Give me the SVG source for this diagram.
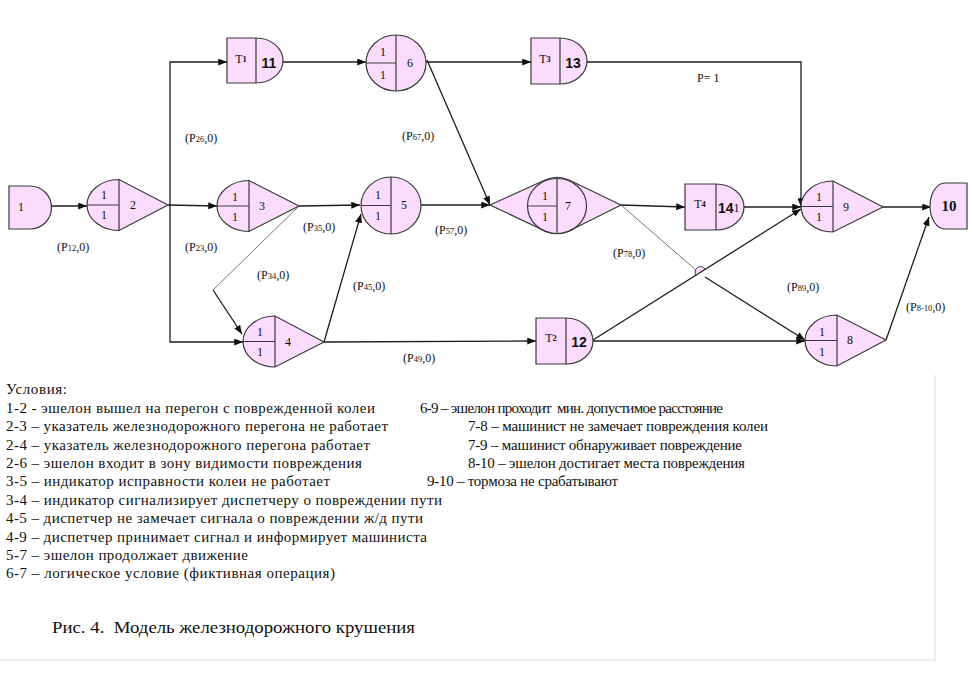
<svg xmlns="http://www.w3.org/2000/svg" width="973" height="684" viewBox="0 0 973 684">
<style>
.n{fill:#fcdcfc;stroke:#3a3a3a;stroke-width:1.2}
.d{stroke:#3a3a3a;stroke-width:1.2;fill:none}
.c{stroke:#1e1e1e;stroke-width:1.3;fill:none}
.ct{stroke:#555;stroke-width:0.8;fill:none}
.a{marker-end:url(#ar)}
.t{font-family:"Liberation Serif","DejaVu Serif",serif;font-size:12px;fill:#111;text-anchor:middle;dominant-baseline:central}
.b{font-family:"Liberation Sans",Arial,sans-serif;font-size:14px;font-weight:bold;fill:#111;text-anchor:middle;dominant-baseline:central}
.l{font-family:"Liberation Serif","DejaVu Serif",serif;font-size:12px;fill:#111}
.s{font-size:8.5px}
.x{font-family:"Liberation Serif","DejaVu Serif",serif;font-size:15px;fill:#111}
</style>
<defs>
<marker id="ar" viewBox="0 0 10 8" refX="10" refY="4" markerWidth="9" markerHeight="7" markerUnits="userSpaceOnUse" orient="auto">
<path d="M0,0 L10,4 L0,8 Z" fill="#111"/>
</marker>
</defs>
<rect width="973" height="684" fill="#fff"/>

<g id="connectors">
<line class="c a" x1="51" y1="206" x2="87" y2="206"/>
<line class="c a" x1="168" y1="205" x2="217" y2="206"/>
<path class="c a" d="M170,205 V62 H227"/>
<path class="c a" d="M170,205 V342 H243"/>
<line class="c a" x1="283" y1="62" x2="366" y2="62"/>
<line class="c a" x1="426" y1="62" x2="531" y2="62"/>
<path class="c a" d="M587,62 H801 V207"/>
<line class="c a" x1="427" y1="60" x2="490" y2="205"/>
<line class="c a" x1="299" y1="206" x2="360" y2="205"/>
<line class="c a" x1="421" y1="205" x2="490" y2="205"/>
<line class="ct" x1="299" y1="206" x2="213" y2="290"/>
<line class="c a" x1="213" y1="290" x2="242" y2="334"/>
<line class="c a" x1="324" y1="342" x2="361" y2="214"/>
<line class="c a" x1="324" y1="342" x2="536" y2="341"/>
<line class="c a" x1="621" y1="205" x2="685" y2="207"/>
<line class="c a" x1="744" y1="207" x2="801" y2="207"/>
<line class="ct" x1="621" y1="205" x2="697" y2="271"/>
<line class="c a" x1="705" y1="277" x2="805" y2="340"/>
<line class="c a" x1="593" y1="341" x2="805" y2="341"/>
<line class="c a" x1="593" y1="340" x2="801" y2="209"/>
<path d="M696,275 A5,5 0 0 1 705,269 Z" fill="#fcdcfc" stroke="#3a3a3a" stroke-width="1"/>
<line class="c a" x1="883" y1="207" x2="931" y2="207"/>
<line class="c a" x1="886" y1="340" x2="929" y2="217"/>
</g>

<g id="node1">
<path class="n" d="M9,186 H30 A21.5,21.5 0 0 1 30,229 H9 Z"/>
<text class="t" x="21" y="207">1</text>
</g>

<g id="node2">
<path class="n" d="M119,179.5 A32,25.5 0 0 0 119,230.5 L168,205 Z"/>
<path class="d" d="M119,179.5 V230.5 M87,205 H119"/>
<text class="t" x="104" y="195">1</text>
<text class="t" x="104" y="215">1</text>
<text class="t" x="133" y="205">2</text>
</g>

<g id="node3">
<path class="n" d="M249,180.5 A32,25.5 0 0 0 249,231.5 L299,206 Z"/>
<path class="d" d="M249,180.5 V231.5 M217,206 H249"/>
<text class="t" x="235" y="197">1</text>
<text class="t" x="235" y="217">1</text>
<text class="t" x="262" y="206">3</text>
</g>

<g id="node4">
<path class="n" d="M275,316 A32,25.5 0 0 0 275,367 L324,342 Z"/>
<path class="d" d="M275,316 V367 M243,341.5 H275"/>
<text class="t" x="260" y="332">1</text>
<text class="t" x="260" y="352">1</text>
<text class="t" x="288" y="342">4</text>
</g>

<g id="node5">
<ellipse class="n" cx="391" cy="205.5" rx="30" ry="28.5"/>
<path class="d" d="M391,177 V234 M361,205.5 H391"/>
<text class="t" x="378" y="195">1</text>
<text class="t" x="378" y="216">1</text>
<text class="t" x="404" y="205">5</text>
</g>

<g id="node6">
<ellipse class="n" cx="396" cy="63" rx="30" ry="28"/>
<path class="d" d="M396,35 V91 M366,63 H396"/>
<text class="t" x="383" y="52">1</text>
<text class="t" x="383" y="75">1</text>
<text class="t" x="410" y="63">6</text>
</g>

<g id="node7">
<path class="n" d="M490,205 L545,180 A28,27 0 0 1 569,180 L621,205 L569,231 A28,27 0 0 1 545,231 Z"/>
<ellipse class="d" cx="557" cy="206" rx="29.5" ry="27.5"/>
<path class="d" d="M557,178.5 V233.5 M527.5,206 H557"/>
<text class="t" x="545" y="196">1</text>
<text class="t" x="545" y="217">1</text>
<text class="t" x="568" y="206">7</text>
</g>

<g id="node8">
<path class="n" d="M837,315 A32,25.5 0 0 0 837,366 L886,340 Z"/>
<path class="d" d="M837,315 V366 M805,340.5 H837"/>
<text class="t" x="822" y="332">1</text>
<text class="t" x="822" y="352">1</text>
<text class="t" x="850" y="340">8</text>
</g>

<g id="node9">
<path class="n" d="M833,181 A32,25.5 0 0 0 833,232 L883,207 Z"/>
<path class="d" d="M833,181 V232 M801,206.5 H833"/>
<text class="t" x="819" y="197">1</text>
<text class="t" x="819" y="217">1</text>
<text class="t" x="846" y="207">9</text>
</g>

<g id="node10">
<path class="n" d="M967,183 V229 H945 A15,23 0 0 1 945,183 Z"/>
<text x="949" y="206" style="font-family:'Liberation Serif','DejaVu Serif',serif;font-size:15px;font-weight:bold;text-anchor:middle;dominant-baseline:central;fill:#111">10</text>
</g>

<g id="node11">
<path class="n" d="M227,38 H256 A27,22.5 0 0 1 256,83 H227 Z"/>
<path class="d" d="M256,38 V83"/>
<text class="t" x="241" y="59">T<tspan class="s" font-weight="bold">1</tspan></text>
<text class="b" x="269" y="63">11</text>
</g>

<g id="node13">
<path class="n" d="M531,38 H560 A27,23 0 0 1 560,84 H531 Z"/>
<path class="d" d="M560,38 V84"/>
<text class="t" x="545" y="59">T<tspan class="s" font-weight="bold">3</tspan></text>
<text class="b" x="573" y="63">13</text>
</g>

<g id="node14">
<path class="n" d="M685,184 H716 A28,23 0 0 1 716,230 H685 Z"/>
<path class="d" d="M716,184 V230"/>
<text class="t" x="700" y="204">T<tspan class="s" font-weight="bold">4</tspan></text>
<text x="718" y="208" style="font-family:'Liberation Sans',Arial,sans-serif;font-size:14px;font-weight:bold;dominant-baseline:central;fill:#111">14<tspan style="font-family:'Liberation Serif','DejaVu Serif',serif;font-weight:normal;font-size:12px">1</tspan></text>
</g>

<g id="node12">
<path class="n" d="M536,318 H566 A27,23 0 0 1 566,364 H536 Z"/>
<path class="d" d="M566,318 V364"/>
<text class="t" x="551" y="338">T<tspan class="s" font-weight="bold">2</tspan></text>
<text class="b" x="579" y="342">12</text>
</g>

<g id="labels">
<text class="l" x="57" y="251">(P<tspan class="s">12</tspan>,0)</text>
<text class="l" x="185" y="142">(P<tspan class="s">26</tspan>,0)</text>
<text class="l" x="185" y="251">(P<tspan class="s">23</tspan>,0)</text>
<text class="l" x="303" y="231">(P<tspan class="s">35</tspan>,0)</text>
<text class="l" x="402" y="140">(P<tspan class="s">67</tspan>,0)</text>
<text class="l" x="435" y="234">(P<tspan class="s">57</tspan>,0)</text>
<text class="l" x="613" y="257">(P<tspan class="s">78</tspan>,0)</text>
<text class="l" x="787" y="291">(P<tspan class="s">89</tspan>,0)</text>
<text class="l" x="906" y="311">(P<tspan class="s">8-10</tspan>,0)</text>
<text class="l" x="257" y="279">(P<tspan class="s">34</tspan>,0)</text>
<text class="l" x="353" y="290">(P<tspan class="s">45</tspan>,0)</text>
<text class="l" x="403" y="362">(P<tspan class="s">49</tspan>,0)</text>
<text class="l" x="697" y="82">P= 1</text>
</g>

<g id="conditions">
<text class="x" x="6" y="394" textLength="61" lengthAdjust="spacing">Условия:</text>
<text class="x" x="6" y="413" textLength="369" lengthAdjust="spacing">1-2 - эшелон вышел на перегон с поврежденной колеи</text>
<text class="x" x="420" y="413" textLength="303" lengthAdjust="spacing" xml:space="preserve">6-9 – эшелон проходит  мин. допустимое расстояние</text>
<text class="x" x="468" y="431" textLength="300" lengthAdjust="spacing">7-8 – машинист не замечает повреждения колеи</text>
<text class="x" x="6" y="431" textLength="382" lengthAdjust="spacing">2-3 – указатель железнодорожного перегона не работает</text>
<text class="x" x="6" y="450" textLength="364" lengthAdjust="spacing">2-4 – указатель железнодорожного перегона работает</text>
<text class="x" x="468" y="450" textLength="274" lengthAdjust="spacing">7-9 – машинист обнаруживает повреждение</text>
<text class="x" x="6" y="468" textLength="356" lengthAdjust="spacing">2-6 – эшелон входит в зону видимости повреждения</text>
<text class="x" x="468" y="468" textLength="277" lengthAdjust="spacing">8-10 – эшелон достигает места повреждения</text>
<text class="x" x="6" y="486" textLength="324" lengthAdjust="spacing">3-5 – индикатор исправности колеи не работает</text>
<text class="x" x="427" y="486" textLength="191" lengthAdjust="spacing">9-10 – тормоза не срабатывают</text>
<text class="x" x="6" y="505" textLength="436" lengthAdjust="spacing">3-4 – индикатор сигнализирует диспетчеру о повреждении пути</text>
<text class="x" x="6" y="523" textLength="417" lengthAdjust="spacing">4-5 – диспетчер не замечает сигнала о повреждении ж/д пути</text>
<text class="x" x="6" y="542" textLength="421" lengthAdjust="spacing">4-9 – диспетчер принимает сигнал и информирует машиниста</text>
<text class="x" x="6" y="560" textLength="242" lengthAdjust="spacing">5-7 – эшелон продолжает движение</text>
<text class="x" x="6" y="578" textLength="329" lengthAdjust="spacing">6-7 – логическое условие (фиктивная операция)</text>
<text class="x" x="52" y="633" style="font-size:17px" textLength="363" lengthAdjust="spacingAndGlyphs" xml:space="preserve">Рис. 4.  Модель железнодорожного крушения</text>
</g>

<path d="M935,375 V660 H0" fill="none" stroke="#e8e8e8" stroke-width="1.5"/>
</svg>
